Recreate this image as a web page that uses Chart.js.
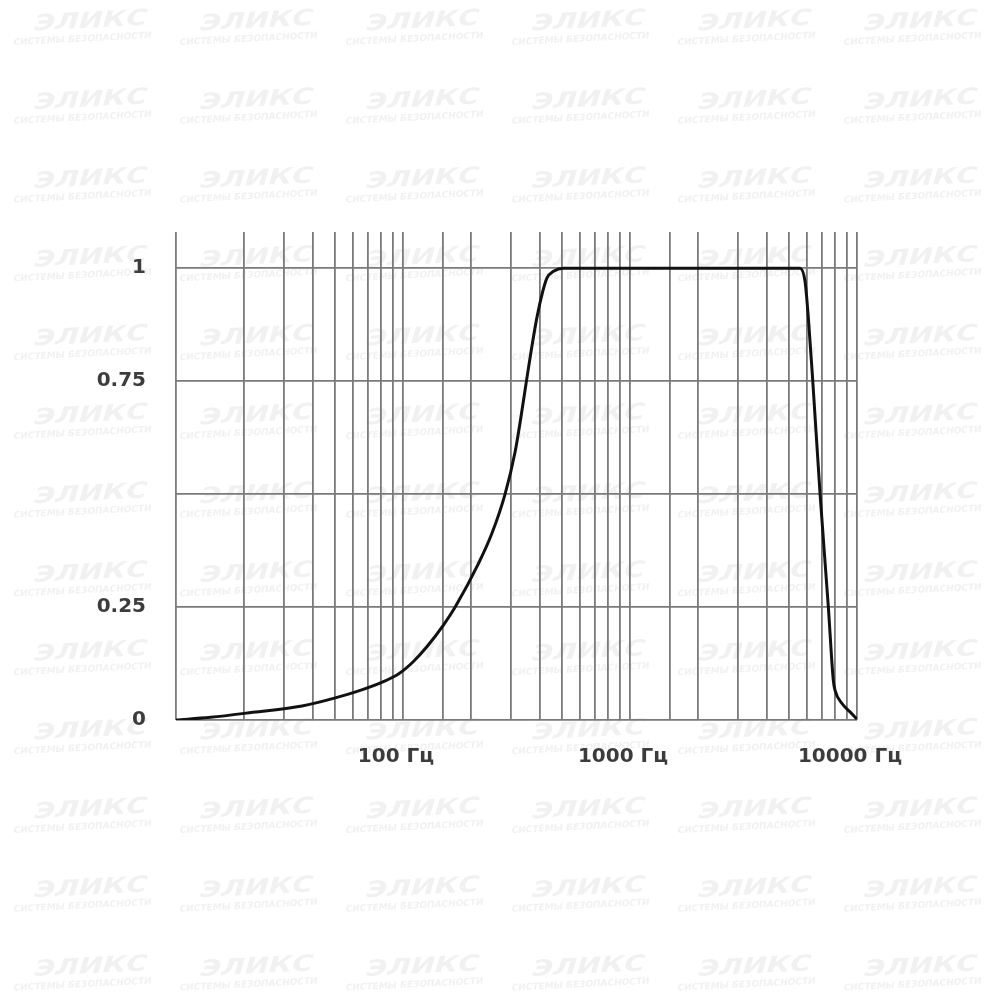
<!DOCTYPE html>
<html>
<head>
<meta charset="utf-8">
<script src="https://cdn.jsdelivr.net/npm/chart.js@4/dist/chart.umd.min.js"></script>
<style>
  body { margin: 0; background: #fff; }
  #wrap { width: 1000px; height: 1000px; }
</style>
</head>
<body>
<div id="wrap"><canvas id="myChart" width="1000" height="1000"></canvas></div>
<script>
// frequency (Hz) and relative response
var freqs    = [10, 14.2, 21.8, 35.9, 51.2, 64.3, 82, 96.2, 110.9, 127.4, 150.7, 169.8, 214.9, 246, 281.6, 311.7, 330.2, 348.5, 366.7, 388.7, 413, 430.5, 460.3, 509.3, 1000, 2000, 5610, 5902, 6105, 6385, 6876, 7478, 7864, 8000, 8570, 9318, 10000];
var response = [0, 0.006, 0.017, 0.031, 0.05, 0.065, 0.085, 0.103, 0.129, 0.162, 0.21, 0.25, 0.346, 0.412, 0.5, 0.593, 0.668, 0.745, 0.816, 0.89, 0.949, 0.978, 0.993, 1, 1, 1, 1, 0.971, 0.89, 0.75, 0.5, 0.25, 0.088, 0.066, 0.037, 0.018, 0.002];

var xLabeled = [100, 1000, 10000];
var yTicks = [0, 0.25, 0.5, 0.75, 1];
var yLabeled = [0, 0.25, 0.75, 1];

var points = freqs.map(function (f, i) { return { x: f, y: response[i] }; });

/*~~~~~~~~~~~~~~~~~~~~~~ watermark ~~~~~~~~~~~~~~~~~~~~~~*/
var watermark = {
  id: 'watermark',
  beforeDraw: function (chart) {
    var c = chart.ctx;
    c.save();
    c.fillStyle = '#fff';
    c.fillRect(0, 0, chart.width, chart.height);
    c.fillStyle = '#f1f1f1';
    c.textAlign = 'center';
    c.textBaseline = 'middle';
    for (var row = 0; row < 13; row++) {
      for (var col = 0; col < 6; col++) {
        c.save();
        c.translate(85 + col * 166, 22 + row * 78.8);
        c.rotate(-0.05);
        c.save();
        c.transform(1.3, 0, -0.35, 1, 0, 0);
        c.font = 'bold 22px "DejaVu Sans"';
        c.fillText('ЭЛИКС', 4, 0);
        c.restore();
        c.save();
        c.transform(1, 0, -0.2, 1, 0, 0);
        c.font = 'bold 9px "DejaVu Sans"';
        c.fillText('СИСТЕМЫ БЕЗОПАСНОСТИ', 0, 17);
        c.restore();
        c.restore();
      }
    }
    c.restore();
  }
};

var ctx = document.getElementById('myChart').getContext('2d');
var myChart = new Chart(ctx, {
  type: 'line',
  data: {
    datasets: [{
      data: points,
      borderColor: '#111',
      borderWidth: 3,
      pointRadius: 0,
      fill: false,
      cubicInterpolationMode: 'monotone'
    }]
  },
  options: {
    responsive: false,
    animation: false,
    layout: { padding: { left: 0, right: 143, top: 232, bottom: 200 } },
    plugins: { legend: { display: false }, tooltip: { enabled: false } },
    scales: {
      x: {
        type: 'logarithmic',
        min: 10,
        max: 10000,
        border: { display: false },
        grid: { color: '#7a7a7a', lineWidth: 1.8, drawTicks: false },
        afterFit: function (axis) { axis.height = 80; },
        ticks: {
          autoSkip: false,
          maxRotation: 0,
          padding: 25,
          labelOffset: -7,
          color: '#3c3c3c',
          font: { family: '"DejaVu Sans"', weight: 'bold', size: 20 },
          callback: function (v) { return xLabeled.indexOf(v) >= 0 ? v + ' Гц' : ''; }
        }
      },
      y: {
        min: 0,
        max: 1.08,
        border: { display: false },
        grid: { color: '#7a7a7a', lineWidth: 1.8, drawTicks: false },
        afterBuildTicks: function (axis) {
          axis.ticks = yTicks.map(function (v) { return { value: v }; });
        },
        afterFit: function (axis) { axis.width = 176; },
        ticks: {
          padding: 30,
          color: '#3c3c3c',
          font: { family: '"DejaVu Sans"', weight: 'bold', size: 20 },
          callback: function (v) { return yLabeled.indexOf(v) >= 0 ? String(v) : ''; }
        }
      }
    }
  },
  plugins: [watermark]
});
</script>
</body>
</html>
